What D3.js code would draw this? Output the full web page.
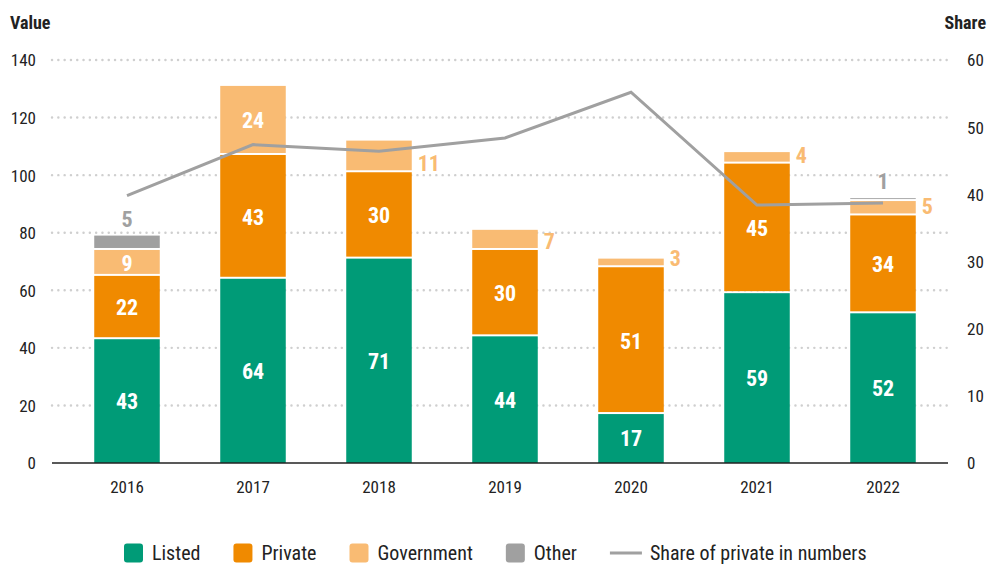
<!DOCTYPE html>
<html>
<head>
<meta charset="utf-8">
<title>Value and share</title>
<script src="https://cdn.jsdelivr.net/npm/d3@7"></script>
<style>
body { margin: 0; background: #fff; }
svg text { font-family: "Liberation Sans Narrow", "Roboto Condensed", "Arial Narrow", Roboto, sans-serif; fill: #222; }
.grid line { stroke: #cfcfcf; stroke-width: 2.4; stroke-dasharray: 0.1,6.2; stroke-linecap: round; }
.tick-label { font-size: 17px; }
.seg-label { font-size: 22px; font-weight: bold; }
</style>
</head>
<body>
<div id="chart"></div>
<script>
// data
var years = ["2016", "2017", "2018", "2019", "2020", "2021", "2022"];
var listed = [43, 64, 71, 44, 17, 59, 52];
var priv = [22, 43, 30, 30, 51, 45, 34];
var government = [9, 24, 11, 7, 3, 4, 5];
var other = [5, 0, 0, 0, 0, 0, 1];
var shareOfPrivate = [39.8, 47.4, 46.4, 48.4, 55.2, 38.4, 38.7];
var leftTicks = [0, 20, 40, 60, 80, 100, 120, 140];
var rightTicks = [0, 10, 20, 30, 40, 50, 60];
// government label sits inside the bar for these years
var govInside = [true, true, false, false, false, false, false];

var seriesKeys = ["Listed", "Private", "Government", "Other"];
var colors = {Listed: "#009b77", Private: "#f08a00", Government: "#f9bb73", Other: "#a0a0a0"};

var W = 990, H = 565;
var svg = d3.select("#chart").append("svg").attr("width", W).attr("height", H);

var x = d3.scaleBand().domain(years).range([64, 946]).paddingInner(0.48).paddingOuter(0.24);
var y = d3.scaleLinear().domain([0, 140]).range([463, 60]);
var y2 = d3.scaleLinear().domain([0, 60]).range([463, 60]);

// grid
svg.append("g").attr("class", "grid")
  .selectAll("line").data(leftTicks.slice(1)).enter().append("line")
  .attr("x1", 52).attr("x2", 948)
  .attr("y1", function(d){ return y(d); }).attr("y2", function(d){ return y(d); });

// left axis
var leftAxis = svg.append("g").attr("transform", "translate(36,0)")
  .call(d3.axisLeft(y).tickValues(leftTicks).tickSize(0).tickPadding(0));
leftAxis.select(".domain").remove();
leftAxis.selectAll("text").attr("class", "tick-label").attr("fill", "#222").attr("dy", "0.35em");

// right axis
var rightAxis = svg.append("g").attr("transform", "translate(967,0)")
  .call(d3.axisRight(y2).tickValues(rightTicks).tickSize(0).tickPadding(0));
rightAxis.select(".domain").remove();
rightAxis.selectAll("text").attr("class", "tick-label").attr("fill", "#222").attr("dy", "0.35em");

svg.append("text").attr("x", 10).attr("y", 29).style("font-size", "18px").style("font-weight", "bold").text("Value");
svg.append("text").attr("x", 986).attr("y", 29).attr("text-anchor", "end").style("font-size", "18px").style("font-weight", "bold").text("Share");

// stacked bars
var rows = years.map(function(yr, i){
  return {year: yr, Listed: listed[i], Private: priv[i], Government: government[i], Other: other[i]};
});
var stack = d3.stack().keys(seriesKeys)(rows);

var layers = svg.append("g").selectAll("g").data(stack).enter().append("g")
  .attr("fill", function(d){ return colors[d.key]; });

layers.selectAll("rect").data(function(d){ return d.filter(function(p){ return p[1] > p[0]; }); })
  .enter().append("rect")
  .attr("x", function(d){ return x(d.data.year); })
  .attr("width", x.bandwidth())
  .attr("y", function(d){ return y(d[1]); })
  .attr("height", function(d){ return Math.max(0, y(d[0]) - y(d[1]) - (d[0] > 0 ? 2 : 0)); });

// segment labels
stack.forEach(function(layer){
  layer.forEach(function(d, i){
    var v = d[1] - d[0];
    if (v <= 0) return;
    var key = layer.key;
    var cx = x(d.data.year) + x.bandwidth() / 2;
    var t = svg.append("text").attr("class", "seg-label").text(v);
    if (key == "Other") {
      t.attr("x", cx).attr("y", y(d[1]) - 9).attr("text-anchor", "middle").style("fill", colors.Other);
    } else if (key == "Government" && !govInside[i]) {
      t.attr("x", x(d.data.year) + x.bandwidth() + 6).attr("y", y(d[0]) - 1).style("fill", colors.Government);
    } else {
      t.attr("x", cx).attr("y", (y(d[0]) + y(d[1])) / 2).attr("dy", "0.36em")
        .attr("text-anchor", "middle").style("fill", "#fff");
    }
  });
});

// baseline
svg.append("line").attr("x1", 52).attr("x2", 948).attr("y1", y(0)).attr("y2", y(0))
  .attr("stroke", "#222").attr("stroke-width", 1.5);

// x labels
svg.append("g").selectAll("text").data(years).enter().append("text")
  .attr("class", "tick-label")
  .attr("x", function(d){ return x(d) + x.bandwidth() / 2; })
  .attr("y", 493).attr("text-anchor", "middle").text(function(d){ return d; });

// share line
var line = d3.line()
  .x(function(d, i){ return x(years[i]) + x.bandwidth() / 2; })
  .y(function(d){ return y2(d); });
svg.append("path").datum(shareOfPrivate)
  .attr("d", line).attr("fill", "none").attr("stroke", "#a0a0a0").attr("stroke-width", 3);

// legend
var legend = svg.append("g");
var lx = 124, ly = 553;
seriesKeys.forEach(function(k){
  legend.append("rect").attr("x", lx).attr("y", ly - 9.5).attr("width", 19).attr("height", 19)
    .attr("rx", 3).attr("fill", colors[k]);
  var t = legend.append("text").attr("x", lx + 28).attr("y", ly).attr("dy", "0.36em")
    .style("font-size", "20px").text(k);
  lx = lx + 28 + t.node().getComputedTextLength() + 33;
});
legend.append("line").attr("x1", lx).attr("x2", lx + 32).attr("y1", ly).attr("y2", ly)
  .attr("stroke", "#a0a0a0").attr("stroke-width", 3);
legend.append("text").attr("x", lx + 40).attr("y", ly).attr("dy", "0.36em")
  .style("font-size", "20px").text("Share of private in numbers");
</script>
</body>
</html>
